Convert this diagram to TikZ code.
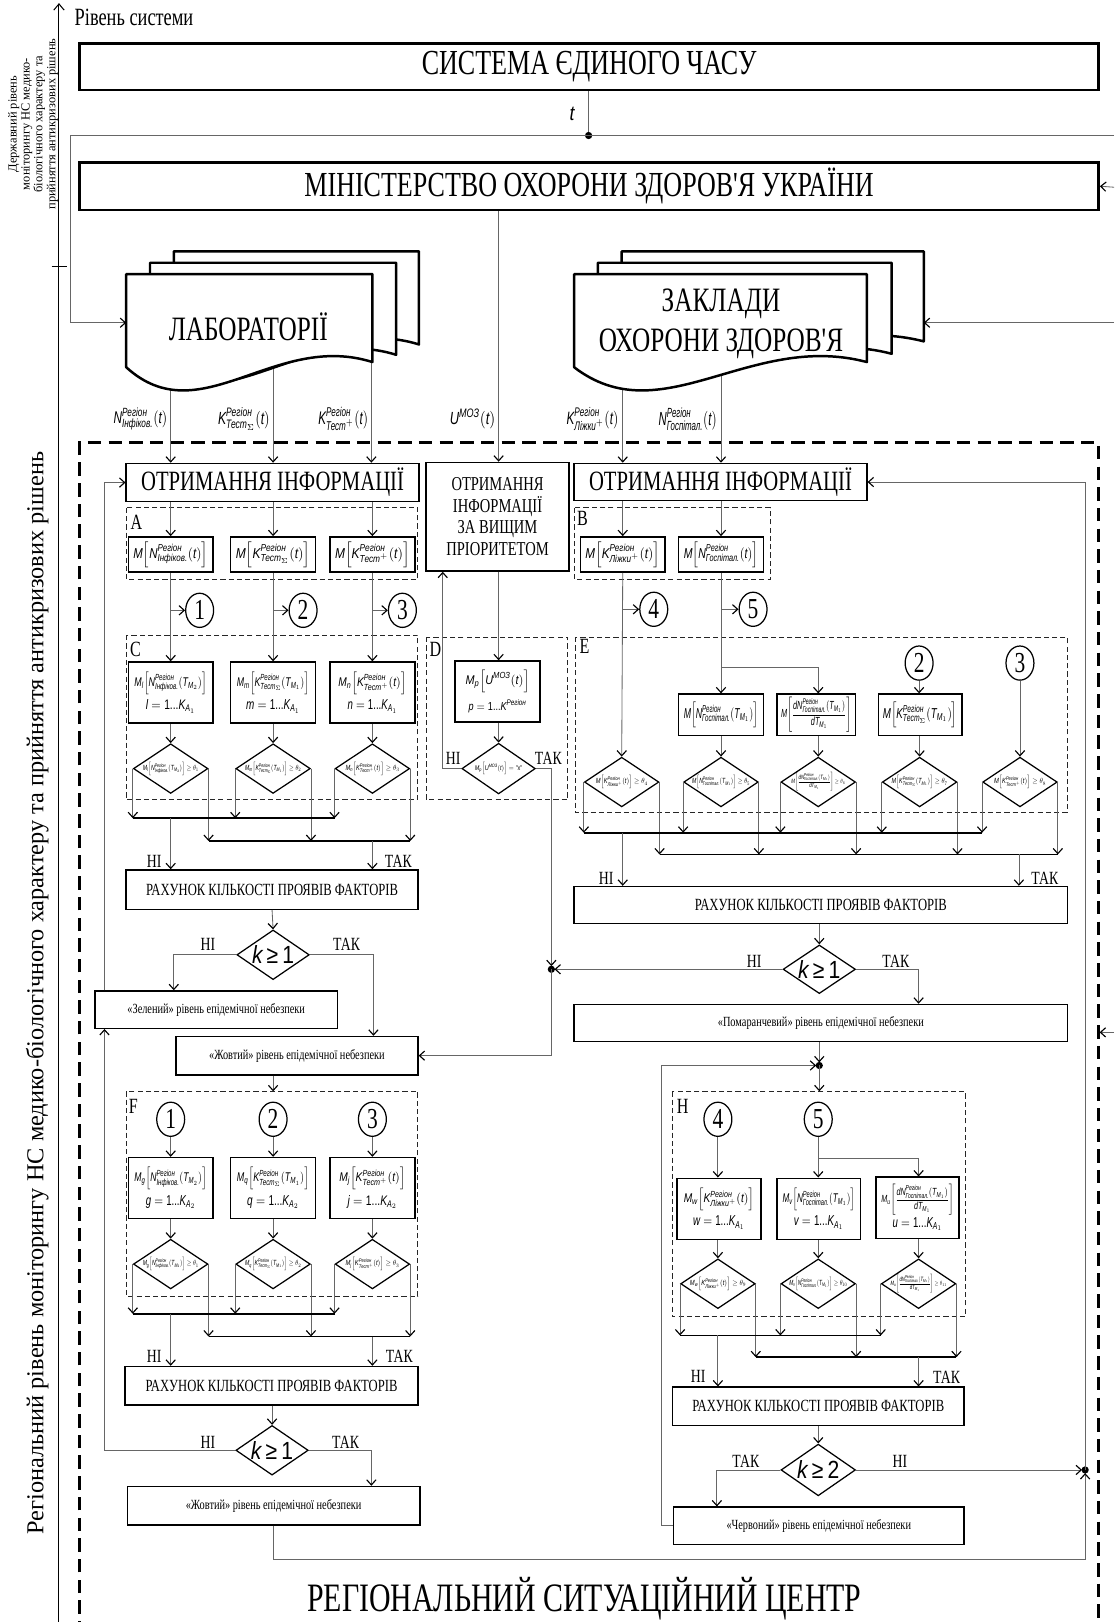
\documentclass[tikz,border=0pt]{standalone}
\usepackage{fontspec}
\usepackage{amsmath}
\usepackage{graphicx}
\usetikzlibrary{arrows.meta,shapes.geometric}
\setmainfont{Liberation Serif}
\newfontfamily\cnd{Liberation Serif}[FakeStretch=0.74]
\newfontfamily\fsans{Liberation Sans}[FakeStretch=0.85]
\newcommand\tx[1]{\text{\fsans\itshape #1}}
\newcommand\qR{\tx{Регіон}}
\newcommand\qNin{\tx{N}^{\qR}_{\tx{Інфіков.}}}
\newcommand\qKs{\tx{K}^{\qR}_{\tx{Тест}_{\Sigma}}}
\newcommand\qKp{\tx{K}^{\qR}_{\tx{Тест}^{+}}}
\newcommand\qKl{\tx{K}^{\qR}_{\tx{Ліжки}^{+}}}
\newcommand\qNg{\tx{N}^{\qR}_{\tx{Госпітал.}}}
\newcommand\qU{\tx{U}^{\tx{МОЗ}}}
\newcommand\qqt{\mathopen{}(\tx{t})}
\newcommand\qTa{\mathopen{}(\tx{T}_{\tx{M}_1})}
\newcommand\qTb{\mathopen{}(\tx{T}_{\tx{M}_2})}
\newcommand\qdN{\frac{\tx{dN}^{\qR}_{\tx{Госпітал.}}\qTa}{\tx{dT}_{\tx{M}_1}}}
\newcommand\qM[1]{\tx{M}\!\left[#1\right]}
\newcommand\qMs[2]{\tx{M}_{\tx{#1}}\!\left[#2\right]}
\newcommand\qfit[3]{\resizebox*{#1pt}{#2pt}{$\displaystyle #3$}}
\newcommand\qrng[2]{\tx{#1}=\text{\fsans 1...}\tx{K}_{\tx{A}_{#2}}}
\newcommand\qdoc[4]{\filldraw[fill=white,draw=black,line width=2.4pt,line join=round] (#1,{#4+5}) -- (#1,#2) -- (#3,#2) -- (#3,#4) .. controls ({#1+0.6*(#3-#1)},{#4-30}) and ({#1+0.3*(#3-#1)},{#4+70}) .. (#1,{#4+5}) -- cycle;}
\newcommand\qdia[6]{\node[dia, minimum width=#4pt, minimum height=#5pt] (#1) at (#2,#3) {}; \node[inner sep=0pt] at (#1.center) {#6};}
\newcommand\qbox[7]{\node[bx,#6, minimum width=#4pt, minimum height=#5pt] (#1) at (#2,#3) {#7};}
\tikzset{
 ln/.style={draw=black!60, line width=0.8pt},
 ar/.style={ln, -{Straight Barb[length=5pt,width=9pt,line width=1.1pt,color=black]}},
 bar/.style={draw=black, line width=1.8pt},
 bx/.style={draw=black, line width=1.4pt, fill=white, inner sep=1pt, align=center},
 tbx/.style={draw=black, line width=2.6pt, fill=white, inner sep=0pt},
 dsh/.style={draw=black!85, line width=0.9pt, dash pattern=on 5pt off 3pt},
 dbig/.style={draw=black, line width=2.6pt, dash pattern=on 13pt off 7pt},
 dia/.style={diamond, draw=black, line width=1.2pt, fill=white, inner sep=0pt},
 circ/.style={ellipse, draw=black, line width=1.2pt, fill=white, inner sep=0pt, minimum width=27pt, minimum height=33pt, font=\cnd\fontsize{28}{28}\selectfont},
 lab/.style={font=\cnd\fontsize{18}{20}\selectfont, inner sep=0pt},
 sec/.style={font=\cnd\fontsize{21}{22}\selectfont, inner sep=0pt},
 rah/.style={font=\cnd\fontsize{16.5}{18}\selectfont},
 lev/.style={font=\cnd\fontsize{13.5}{15}\selectfont},
}
\begin{document}
\begin{tikzpicture}[x=1pt,y=-1pt]
\useasboundingbox (0,0) rectangle (1077,1568);
\fill[white] (0,0) rectangle (1077,1568);
% column coordinates
\coordinate (cx1) at (165,0); \coordinate (cx2) at (264,0); \coordinate (cx3) at (360,0);
\coordinate (cd) at (482,0); \coordinate (cdl) at (428,0);
\coordinate (cz) at (168,0); \coordinate (cy1) at (361,0); \coordinate (cy2) at (359,0);
\coordinate (cl) at (101,0); \coordinate (cr) at (1049,0);
\coordinate (ce1) at (602,0); \coordinate (ce2) at (697,0); \coordinate (ce3) at (791,0);
\coordinate (cto) at (888,0);
\coordinate (ch1) at (694,0); \coordinate (ch2) at (791,0); \coordinate (ch3) at (888,0);
\coordinate (c639) at (639,0); \coordinate (c693) at (693,0);
\coordinate (m1L) at (0,791); \coordinate (m2L) at (0,813);
\coordinate (m1R) at (0,805); \coordinate (m2R) at (0,826);
\coordinate (m1F) at (0,1270); \coordinate (m2F) at (0,1292);
\coordinate (m1H) at (0,1291); \coordinate (m2H) at (0,1312);
\coordinate (brE) at (0,645); \coordinate (brH) at (0,1119.5);
\coordinate (Ftop) at (0,1055); \coordinate (Htop) at (0,1055); \coordinate (cbt) at (0,1507);
\coordinate (jL) at (533,937); \coordinate (jR) at (792,1030); \coordinate (jB) at (1049,1421);

% axis and side labels
\draw[line width=0.9pt, -{Straight Barb[length=6pt,width=10pt,line width=1pt]}] (57,1568) -- (57,3);
\draw[line width=0.9pt] (50,258) -- (65,258);
\node[anchor=west, font=\cnd\fontsize{24}{26}\selectfont, inner sep=0pt] (lvl) at (72,17) {Рівень системи};
\node[rotate=90, align=center, font=\fontsize{12}{12.5}\selectfont, inner sep=0pt] (state) at (32,120) {Державний рівень\\моніторингу НС медико-\\біологічного характеру та\\прийняття антикризових рішень};
\node[rotate=90, font=\fontsize{23.5}{25}\selectfont, inner sep=0pt] (regl) at (36,960) {Регіональний рівень моніторингу НС медико-біологічного характеру та прийняття антикризових рішень};

% top boxes
\node[tbx, minimum width=985pt, minimum height=45pt, font=\cnd\fontsize{34}{36}\selectfont] (sys) at (569.5,64.5) {СИСТЕМА ЄДИНОГО ЧАСУ};
\node[tbx, minimum width=985pt, minimum height=46pt, font=\cnd\fontsize{34}{36}\selectfont] (moz) at (569.5,180) {МІНІСТЕРСТВО ОХОРОНИ ЗДОРОВ'Я УКРАЇНИ};
\coordinate (tjd) at (569,131);
\node[font=\fsans\itshape\fontsize{20}{22}\selectfont, inner sep=0pt] (tl) at (553,110) {t};
\coordinate (trr) at (1077,131); \coordinate (tll) at (68,131); \coordinate (labin) at (122,312);
\coordinate (ro1) at (1077,181); \coordinate (ro2) at (1077,312); \coordinate (zin) at (893,312);
\coordinate (ro3) at (1077,998); \coordinate (din) at (1063,998);

% outer dashed region
\draw[dbig] (77,1600) -- (77,428) -- (1062,428) -- (1062,1600);

% upper receiving boxes
\node[bx, minimum width=283pt, minimum height=37pt, font=\cnd\fontsize{27}{29}\selectfont] (olL) at (263.5,466.5) {ОТРИМАННЯ ІНФОРМАЦІЇ};
\node[bx, minimum width=138pt, minimum height=105pt, font=\cnd\fontsize{19}{21}\selectfont] (hp) at (481,499.5) {ОТРИМАННЯ\\ІНФОРМАЦІЇ\\ЗА ВИЩИМ\\ПРІОРИТЕТОМ};
\node[bx, minimum width=283pt, minimum height=36pt, font=\cnd\fontsize{27}{29}\selectfont] (olR) at (696.5,466) {ОТРИМАННЯ ІНФОРМАЦІЇ};

% input lines (under documents)
\coordinate (i1) at (165,330); \coordinate (i2) at (264,330); \coordinate (i3) at (359,330);
\coordinate (i5) at (602,330); \coordinate (i6) at (697,330);
\draw[ar] (i1) -- (olL.north -| i1);
\draw[ar] (i2) -- (olL.north -| i2);
\draw[ar] (i3) -- (olL.north -| i3);
\draw[ar] (i5) -- (olR.north -| i5);
\draw[ar] (i6) -- (olR.north -| i6);
\draw[ar] (moz.south -| cd) -- (hp.north -| cd);

% documents
\qdoc{168}{243}{405}{333}
\qdoc{145}{254}{383}{343}
\qdoc{122}{265}{360}{350}
\qdoc{601}{243}{893}{330}
\qdoc{578}{254}{862}{342}
\qdoc{555}{265}{838}{350}
\node[font=\cnd\fontsize{33}{35}\selectfont, inner sep=0pt] (labt) at (240,316) {ЛАБОРАТОРІЇ};
\node[font=\cnd\fontsize{33}{38}\selectfont, inner sep=0pt, align=center] (zakt) at (697,313) {ЗАКЛАДИ\\ОХОРОНИ ЗДОРОВ'Я};

% time line
\draw[ln] (sys.south -| tjd) -- (tjd);
\fill (tjd) circle (3.5pt);
\draw[ar] (trr) -- (tll) |- (labin);
\draw[ar] (ro1) -- (moz.east);
\draw[ar] (ro2) -- (zin);
\draw[ar] (ro3) -- (din);

% input labels
\node[anchor=east, inner sep=0pt] (l1) at (162,405) {\qfit{52}{22}{\qNin\qqt}};
\node[anchor=east, inner sep=0pt] (l2) at (261,405) {\qfit{50}{22}{\qKs\qqt}};
\node[anchor=east, inner sep=0pt] (l3) at (356,405) {\qfit{48}{22}{\qKp\qqt}};
\node[anchor=east, inner sep=0pt] (l4) at (479,405) {\qfit{44}{20}{\qU\qqt}};
\node[anchor=east, inner sep=0pt] (l5) at (598,405) {\qfit{50}{22}{\qKl\qqt}};
\node[anchor=east, inner sep=0pt] (l6) at (693,405) {\qfit{56}{22}{\qNg\qqt}};

% ===== Section A =====
\draw[dsh] (122,491) rectangle (404,560);
\node[sec] (secA) at (132,505) {A};
\qbox{A1}{165}{536}{82}{34}{}{\qfit{72}{25}{\qM{\qNin\qqt}}}
\qbox{A2}{264}{536}{82}{34}{}{\qfit{72}{25}{\qM{\qKs\qqt}}}
\qbox{A3}{360}{536}{82}{34}{}{\qfit{72}{25}{\qM{\qKp\qqt}}}
\foreach \c in {1,2,3} {\draw[ar] (olL.south -| A\c) -- (A\c.north);}
\node[circ] (ci1) at (193,590) {1};
\node[circ] (ci2) at (293,590) {2};
\node[circ] (ci3) at (389,590) {3};

% ===== Section C =====
\draw[dsh] (122,614) rectangle (404,773);
\node[sec] (secC) at (131,628) {C};
\qbox{C1}{165}{669.5}{82}{59}{}{\qfit{70}{22}{\qMs{l}{\qNin\qTb}}\\[4pt]\qfit{48}{13}{\qrng{l}{1}}}
\qbox{C2}{264}{669.5}{82}{59}{}{\qfit{70}{22}{\qMs{m}{\qKs\qTa}}\\[4pt]\qfit{52}{13}{\qrng{m}{1}}}
\qbox{C3}{360}{669.5}{82}{59}{}{\qfit{66}{22}{\qMs{n}{\qKp\qqt}}\\[4pt]\qfit{48}{13}{\qrng{n}{1}}}
\qdia{Cd1}{165}{743}{72}{48}{\qfit{54}{13}{\qMs{l}{\qNin\qTb}\geq\theta_1}}
\qdia{Cd2}{264}{743}{72}{48}{\qfit{54}{13}{\qMs{m}{\qKs\qTa}\geq\theta_2}}
\qdia{Cd3}{360}{743}{72}{48}{\qfit{52}{13}{\qMs{n}{\qKp\qqt}\geq\theta_3}}
\foreach \c/\k in {1/ci1,2/ci2,3/ci3} {
  \draw[ar] (A\c.south) -- (C\c.north);
  \draw[ar] (A\c.south |- \k) -- (\k.west);
  \draw[ar] (C\c.south) -- (Cd\c.north);
  \draw[ar] (Cd\c.west) -- (Cd\c.west |- m1L);
  \draw[ar] (Cd\c.east) -- (Cd\c.east |- m2L);
}
\draw[bar] (Cd1.west |- m1L) -- (Cd3.west |- m1L);
\draw[bar] (Cd1.east |- m2L) -- (Cd3.east |- m2L);
\qbox{rL1}{263}{860}{282}{38}{rah}{РАХУНОК КІЛЬКОСТІ ПРОЯВІВ ФАКТОРІВ}
\draw[ar] (cx1 |- m1L) -- (cx1 |- rL1.north);
\draw[ar] (cx3 |- m2L) -- (cx3 |- rL1.north);
\node[lab] (nL1) at (149,833) {НІ};
\node[lab] (tL1) at (385,833) {ТАК};
\qdia{kL1}{264}{923}{70}{48}{\fontsize{24}{24}\selectfont\fsans\itshape k\upshape\,≥\,1}
\draw[ar] (rL1.south) -- (kL1.north);
\qbox{zel}{209}{976}{234}{36}{lev}{«Зелений» рівень епідемічної небезпеки}
\qbox{yel1}{287}{1020.5}{234}{37}{lev}{«Жовтий» рівень епідемічної небезпеки}
\draw[ar] (kL1.west) -| (zel.north -| cz);
\draw[ar] (kL1.east) -| (yel1.north -| cy1);
\node[lab] (nL2) at (201,913) {НІ};
\node[lab] (tL2) at (335,913) {ТАК};
\draw[ar] (zel.north -| cl) -- (cl |- olL.west) -- (olL.west);

% ===== Section D =====
\draw[dsh] (412,616) rectangle (549,773);
\node[sec] (secD) at (421,628) {D};
\qbox{Db}{481}{668.5}{82}{59}{}{\qfit{62}{22}{\qMs{p}{\qU\qqt}}\\[6pt]\qfit{56}{13}{\tx{p}=\text{\fsans 1...}\tx{K}^{\qR}}}
\qdia{Dd}{482}{743}{71}{49}{\qfit{46}{12}{\qMs{p}{\qU\qqt}=\text{\fsans"x"}}}
\draw[ar] (hp.south -| cd) -- (Db.north -| cd);
\draw[ar] (Db.south -| cd) -- (Dd.north);
\draw[ar] (Dd.west) -| (hp.south -| cdl);
\node[lab] (nD) at (438,733) {НІ};
\node[lab] (tD) at (530,733) {ТАК};
\draw[ar, shorten >=3pt] (Dd.east) -| (jL);
\fill (jL) circle (3.5pt);
\draw[ar] (jL) |- (yel1.east);

% ===== Section B =====
\draw[dsh] (555,491) rectangle (745,560);
\node[sec] (secB) at (563,501) {B};
\qbox{B1}{602}{536}{82}{34}{}{\qfit{72}{25}{\qM{\qKl\qqt}}}
\qbox{B2}{697}{536}{82}{34}{}{\qfit{72}{25}{\qM{\qNg\qqt}}}
\draw[ar] (olR.south -| B1) -- (B1.north);
\draw[ar] (olR.south -| B2) -- (B2.north);
\node[circ] (ci4) at (632,589) {4};
\node[circ] (ci5) at (728,589) {5};

% ===== Section E =====
\draw[dsh] (556,616) rectangle (1032,785);
\node[sec] (secE) at (565,625) {E};
\qbox{Ea}{697}{691}{82}{40}{}{\qfit{72}{25}{\qM{\qNg\qTa}}}
\qbox{Eb}{789}{691}{76}{40}{}{\qfit{68}{34}{\qM{\qdN}}}
\qbox{Ec}{889.5}{691}{81}{40}{}{\qfit{72}{25}{\qM{\qKs\qTa}}}
\node[circ] (ciE2) at (888.5,641) {2};
\node[circ] (ciE3) at (986,641) {3};
\qdia{Ed1}{601}{756}{72}{48}{\qfit{50}{13}{\qM{\qKl\qqt}\geq\theta_4}}
\qdia{Ed2}{697}{756}{72}{48}{\qfit{56}{13}{\qM{\qNg\qTa}\geq\theta_5}}
\qdia{Ed3}{791}{756}{72}{48}{\qfit{52}{18}{\qM{\qdN}\geq\theta_6}}
\qdia{Ed4}{889}{756}{72}{48}{\qfit{54}{13}{\qM{\qKs\qTa}\geq\theta_7}}
\qdia{Ed5}{986}{756}{72}{48}{\qfit{50}{13}{\qM{\qKp\qqt}\geq\theta_8}}
\draw[ar] (B1.south -| ce1) -- (Ed1.north);
\draw[ar] (ce1 |- ci4) -- (ci4.west);
\draw[ar] (B2.south -| ce2) -- (Ea.north -| ce2);
\draw[ar] (ce2 |- ci5) -- (ci5.west);
\draw[ar] (ce2 |- brE) -| (Eb.north -| ce3);
\draw[ar] (ciE2.south) -- (Ec.north -| ciE2);
\draw[ar] (ciE3.south) -- (Ed5.north);
\draw[ar] (Ea.south -| Ed2) -- (Ed2.north);
\draw[ar] (Eb.south -| Ed3) -- (Ed3.north);
\draw[ar] (Ec.south -| Ed4) -- (Ed4.north);
\foreach \c in {1,...,5} {
  \draw[ar] (Ed\c.west) -- (Ed\c.west |- m1R);
  \draw[ar] (Ed\c.east) -- (Ed\c.east |- m2R);
}
\draw[bar] (Ed1.west |- m1R) -- (Ed5.west |- m1R);
\draw[bar] (Ed1.east |- m2R) -- (Ed5.east |- m2R);
\qbox{rR1}{793.5}{875}{477}{36}{rah}{РАХУНОК КІЛЬКОСТІ ПРОЯВІВ ФАКТОРІВ}
\draw[ar] (ce1 |- m1R) -- (ce1 |- rR1.north);
\coordinate (tkR) at (985,826);
\draw[ar] (tkR) -- (tkR |- rR1.north);
\node[lab] (nR1) at (586,849) {НІ};
\node[lab] (tR1) at (1010,849) {ТАК};
\qdia{kR1}{792}{937}{70}{47}{\fontsize{24}{24}\selectfont\fsans\itshape k\upshape\,≥\,1}
\draw[ar] (rR1.south -| kR1) -- (kR1.north);
\draw[ar, shorten >=3pt] (kR1.west) -- (jL);
\qbox{orn}{793.5}{989}{477}{36}{lev}{«Помаранчевий» рівень епідемічної небезпеки}
\draw[ar] (kR1.east) -| (orn.north -| cto);
\node[lab] (nR2) at (729,929) {НІ};
\node[lab] (tR2) at (866,929) {ТАК};
\draw[ar, shorten >=3pt] (orn.south -| jR) -- (jR);
\fill (jR) circle (3.5pt);

% ===== Section F =====
\draw[ar] (yel1.south -| cx2) -- (cx2 |- Ftop);
\draw[dsh] (122,1055) rectangle (404,1253);
\node[sec] (secF) at (129,1070) {F};
\node[circ] (ciF1) at (165,1082) {1};
\node[circ] (ciF2) at (264,1082) {2};
\node[circ] (ciF3) at (360,1082) {3};
\qbox{F1}{165}{1148.5}{82}{59}{}{\qfit{70}{22}{\qMs{g}{\qNin\qTb}}\\[4pt]\qfit{48}{13}{\qrng{g}{2}}}
\qbox{F2}{264}{1148.5}{82}{59}{}{\qfit{70}{22}{\qMs{q}{\qKs\qTa}}\\[4pt]\qfit{50}{13}{\qrng{q}{2}}}
\qbox{F3}{360}{1148.5}{82}{59}{}{\qfit{64}{22}{\qMs{j}{\qKp\qqt}}\\[4pt]\qfit{48}{13}{\qrng{j}{2}}}
\qdia{Fd1}{165}{1222}{72}{48}{\qfit{54}{13}{\qMs{g}{\qNin\qTb}\geq\theta_1}}
\qdia{Fd2}{264}{1222}{72}{48}{\qfit{54}{13}{\qMs{q}{\qKs\qTa}\geq\theta_2}}
\qdia{Fd3}{360}{1222}{72}{48}{\qfit{52}{13}{\qMs{j}{\qKp\qqt}\geq\theta_3}}
\foreach \c in {1,2,3} {
  \draw[ar] (ciF\c.south) -- (F\c.north);
  \draw[ar] (F\c.south) -- (Fd\c.north);
  \draw[ar] (Fd\c.west) -- (Fd\c.west |- m1F);
  \draw[ar] (Fd\c.east) -- (Fd\c.east |- m2F);
}
\draw[bar] (Fd1.west |- m1F) -- (Fd3.west |- m1F);
\draw[bar] (Fd1.east |- m2F) -- (Fd3.east |- m2F);
\qbox{rL2}{262.5}{1339.5}{283}{37}{rah}{РАХУНОК КІЛЬКОСТІ ПРОЯВІВ ФАКТОРІВ}
\draw[ar] (cx1 |- m1F) -- (cx1 |- rL2.north);
\draw[ar] (cx3 |- m2F) -- (cx3 |- rL2.north);
\node[lab] (nF1) at (149,1311) {НІ};
\node[lab] (tF1) at (386,1311) {ТАК};
\qdia{kL2}{263}{1402}{70}{48}{\fontsize{24}{24}\selectfont\fsans\itshape k\upshape\,≥\,1}
\draw[ar] (rL2.south -| kL2) -- (kL2.north);
\qbox{yel2}{264.5}{1455.5}{283}{37}{lev}{«Жовтий» рівень епідемічної небезпеки}
\draw[ar] (kL2.west) -| (zel.south -| cl);
\draw[ar] (kL2.east) -| (yel2.north -| cy2);
\node[lab] (nF2) at (201,1394) {НІ};
\node[lab] (tF2) at (334,1394) {ТАК};

% ===== Section H =====
\draw[ar] (jR) -- (jR |- Htop);
\draw[dsh] (650,1055) rectangle (933,1273);
\node[sec] (secH) at (660,1070) {H};
\node[circ] (ciH4) at (694,1082) {4};
\node[circ] (ciH5) at (791,1082) {5};
\qbox{H1}{695}{1168.5}{81}{59}{}{\qfit{68}{22}{\qMs{w}{\qKl\qqt}}\\[4pt]\qfit{50}{13}{\qrng{w}{1}}}
\qbox{H2}{791.5}{1168.5}{81}{59}{}{\qfit{70}{22}{\qMs{v}{\qNg\qTa}}\\[4pt]\qfit{48}{13}{\qrng{v}{1}}}
\qbox{H3}{887}{1167.5}{80}{59}{}{\qfit{70}{30}{\qMs{u}{\qdN}}\\[1pt]\qfit{48}{13}{\qrng{u}{1}}}
\qdia{Hd1}{694}{1241}{72}{48}{\qfit{54}{13}{\qMs{w}{\qKl\qqt}\geq\theta_9}}
\qdia{Hd2}{791}{1241}{72}{48}{\qfit{56}{13}{\qMs{v}{\qNg\qTa}\geq\theta_{10}}}
\qdia{Hd3}{888}{1241}{72}{48}{\qfit{54}{18}{\qMs{u}{\qdN}\geq\theta_{11}}}
\draw[ar] (ciH4.south) -- (H1.north -| ciH4);
\draw[ar] (ciH5.south) -- (H2.north -| ciH5);
\draw[ar] (ch2 |- brH) -| (H3.north -| ch3);
\foreach \c in {1,2,3} {
  \draw[ar] (H\c.south -| Hd\c) -- (Hd\c.north);
  \draw[ar] (Hd\c.west) -- (Hd\c.west |- m1H);
  \draw[ar] (Hd\c.east) -- (Hd\c.east |- m2H);
}
\draw[bar] (Hd1.west |- m1H) -- (Hd3.west |- m1H);
\draw[bar] (Hd1.east |- m2H) -- (Hd3.east |- m2H);
\qbox{rR2}{791}{1359.5}{282}{37}{rah}{РАХУНОК КІЛЬКОСТІ ПРОЯВІВ ФАКТОРІВ}
\draw[ar] (ch1 |- m1H) -- (ch1 |- rR2.north);
\draw[ar] (ch3 |- m2H) -- (ch3 |- rR2.north);
\node[lab] (nH1) at (675,1331) {НІ};
\node[lab] (tH1) at (915,1331) {ТАК};
\qdia{kR2}{791}{1421}{72}{50}{\fontsize{24}{24}\selectfont\fsans\itshape k\upshape\,≥\,2}
\draw[ar] (rR2.south -| kR2) -- (kR2.north);
\qbox{red}{791.5}{1475}{281}{36}{lev}{«Червоний» рівень епідемічної небезпеки}
\draw[ar] (kR2.west) -| (red.north -| c693);
\node[lab] (tH2) at (721,1413) {ТАК};
\node[lab] (nH2) at (870,1413) {НІ};
\draw[ar, shorten >=3pt] (red.west) -- (c639 |- red.west) -- (c639 |- jR) -- (jR);
\draw[ar, shorten >=3pt] (kR2.east) -- (jB);
\draw[ar, shorten >=3pt] (yel2.south -| cx2) -- (cx2 |- cbt) -- (cr |- cbt) -- (jB);
\fill (jB) circle (3.5pt);
\draw[ar] (jB) -- (cr |- olR.east) -- (olR.east);

\node[font=\cnd\fontsize{39}{41}\selectfont, inner sep=0pt] (rsc) at (565,1545) {РЕГІОНАЛЬНИЙ СИТУАЦІЙНИЙ ЦЕНТР};
\end{tikzpicture}
\end{document}
